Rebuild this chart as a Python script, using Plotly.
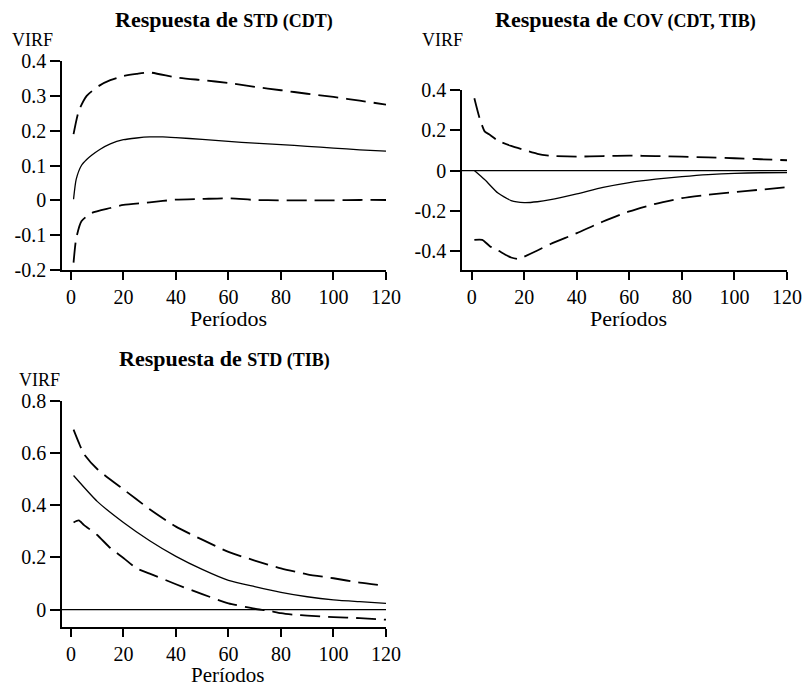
import plotly.graph_objects as go

# ---------------- data ----------------
# Panel 1: Respuesta de STD (CDT)
p1_t = [1, 2, 4, 6, 8, 11, 15, 20, 25, 30, 35, 40, 50, 60, 70, 80, 90, 100, 110, 120]
p1_mid = [0.003, 0.06, 0.10, 0.117, 0.13, 0.146, 0.162, 0.174, 0.179, 0.182, 0.182, 0.180, 0.175, 0.169, 0.164, 0.160, 0.155, 0.150, 0.145, 0.141]

p1_up_t = [1, 3, 6, 11, 15, 20, 25, 30, 40, 50, 60, 70, 80, 90, 100, 110, 120]
p1_up = [0.19, 0.257, 0.30, 0.33, 0.345, 0.357, 0.363, 0.367, 0.353, 0.345, 0.337, 0.326, 0.316, 0.306, 0.297, 0.286, 0.275]

p1_lo_t = [1, 2, 4, 8, 15, 20, 30, 40, 50, 60, 70, 80, 90, 100, 110, 120]
p1_lo = [-0.179, -0.11, -0.06, -0.036, -0.022, -0.013, -0.006, 0.002, 0.004, 0.006, 0.001, 0.0, 0.0, 0.0, 0.001, 0.001]

# Panel 2: Respuesta de COV (CDT, TIB)
p2_t = [1, 5, 10, 15, 20, 25, 30, 40, 50, 60, 70, 80, 90, 100, 110, 120]
p2_mid = [0.0, -0.046, -0.112, -0.149, -0.159, -0.155, -0.145, -0.116, -0.084, -0.06, -0.043, -0.03, -0.02, -0.014, -0.011, -0.01]

p2_up_t = [1, 3, 5, 7, 10, 15, 20, 25, 30, 40, 50, 60, 70, 80, 90, 100, 110, 120]
p2_up = [0.359, 0.26, 0.193, 0.177, 0.148, 0.122, 0.102, 0.083, 0.073, 0.069, 0.072, 0.074, 0.072, 0.069, 0.065, 0.061, 0.056, 0.051]

p2_lo_t = [1, 4, 7, 10, 15, 18, 20, 25, 30, 40, 50, 60, 70, 80, 90, 100, 110, 120]
p2_lo = [-0.344, -0.344, -0.377, -0.397, -0.432, -0.44, -0.428, -0.397, -0.365, -0.311, -0.253, -0.203, -0.165, -0.137, -0.12, -0.107, -0.095, -0.083]

# Panel 3: Respuesta de STD (TIB)
p3_t = [1, 10, 20, 30, 40, 50, 60, 70, 80, 90, 100, 110, 120]
p3_mid = [0.514, 0.415, 0.334, 0.264, 0.204, 0.154, 0.112, 0.088, 0.066, 0.049, 0.037, 0.030, 0.024]

p3_up_t = [1, 3, 5, 10, 20, 30, 40, 50, 60, 70, 80, 90, 100, 110, 120]
p3_up = [0.69, 0.64, 0.596, 0.539, 0.461, 0.385, 0.318, 0.268, 0.221, 0.188, 0.158, 0.135, 0.12, 0.103, 0.091]

p3_lo_t = [1, 3, 5, 10, 15, 20, 25, 30, 40, 50, 60, 70, 75, 80, 85, 90, 100, 110, 120]
p3_lo = [0.334, 0.342, 0.324, 0.286, 0.236, 0.198, 0.158, 0.138, 0.097, 0.059, 0.024, 0.003, -0.004, -0.014, -0.02, -0.023, -0.029, -0.033, -0.039]

x_ticks = [0, 20, 40, 60, 80, 100, 120]
p1_yticks = [0.4, 0.3, 0.2, 0.1, 0, -0.1, -0.2]
p1_ylabels = ["0.4", "0.3", "0.2", "0.1", "0", "-0.1", "-0.2"]
p2_yticks = [0.4, 0.2, 0, -0.2, -0.4]
p2_ylabels = ["0.4", "0.2", "0", "-0.2", "-0.4"]
p3_yticks = [0.8, 0.6, 0.4, 0.2, 0]
p3_ylabels = ["0.8", "0.6", "0.4", "0.2", "0"]

titles = [
    "Respuesta de <span style='font-size:18px'>STD (CDT)</span>",
    "Respuesta de <span style='font-size:18px'>COV (CDT, TIB)</span>",
    "Respuesta de <span style='font-size:18px'>STD (TIB)</span>",
]

# ---------------- figure ----------------
FONT = "Liberation Serif, Times New Roman, serif"
fig = go.Figure()

solid = dict(color="black", width=1.3)
dashed = dict(color="black", width=1.8, dash="20px,8px")

def add_panel(n, t_mid, mid, t_up, up, t_lo, lo):
    xa = "x" if n == 1 else f"x{n}"
    ya = "y" if n == 1 else f"y{n}"
    fig.add_trace(go.Scatter(x=t_up, y=up, mode="lines", line=dict(**dashed, shape="spline", smoothing=0.6), xaxis=xa, yaxis=ya, showlegend=False))
    fig.add_trace(go.Scatter(x=t_mid, y=mid, mode="lines", line=dict(**solid, shape="spline", smoothing=0.6), xaxis=xa, yaxis=ya, showlegend=False))
    fig.add_trace(go.Scatter(x=t_lo, y=lo, mode="lines", line=dict(**dashed, shape="spline", smoothing=0.6), xaxis=xa, yaxis=ya, showlegend=False))

add_panel(1, p1_t, p1_mid, p1_up_t, p1_up, p1_lo_t, p1_lo)
add_panel(2, p2_t, p2_mid, p2_up_t, p2_up, p2_lo_t, p2_lo)
add_panel(3, p3_t, p3_mid, p3_up_t, p3_up, p3_lo_t, p3_lo)

W, H = 805, 686

def xdom(l, r):
    return [l / W, r / W]

def ydom(top, bot):
    return [1 - bot / H, 1 - top / H]

axis_common = dict(
    showline=True, linecolor="black", linewidth=1.6,
    ticks="outside", tickwidth=1.6, tickcolor="black",
    showgrid=False, zeroline=False, automargin=False,
    tickfont=dict(family=FONT, size=20, color="black"),
)
xax = dict(ticklen=8, **axis_common)
yax = dict(ticklen=10, **axis_common)

fig.update_layout(
    width=W, height=H,
    margin=dict(l=0, r=0, t=0, b=0, autoexpand=False),
    paper_bgcolor="white", plot_bgcolor="white",
    font=dict(family=FONT, color="black"),
    showlegend=False,
    xaxis=dict(domain=xdom(62, 386), range=[-3.4, 120], tickvals=x_ticks, anchor="y", **xax),
    yaxis=dict(domain=ydom(61, 270), range=[-0.2, 0.4], tickvals=p1_yticks, ticktext=p1_ylabels, anchor="x", **yax),
    xaxis2=dict(domain=xdom(462, 787), range=[-3.7, 120], tickvals=x_ticks, anchor="y2", **xax),
    yaxis2=dict(domain=ydom(90, 270), range=[-0.494, 0.4], tickvals=p2_yticks, ticktext=p2_ylabels, anchor="x2", **yax),
    xaxis3=dict(domain=xdom(62, 386), range=[-3.4, 120], tickvals=x_ticks, anchor="y3", **xax),
    yaxis3=dict(domain=ydom(401, 627), range=[-0.067, 0.8], tickvals=p3_yticks, ticktext=p3_ylabels, anchor="x3", **yax),
)

# zero reference lines in panels 2 and 3
for n in (2, 3):
    fig.add_shape(type="line", xref=f"x{n} domain", yref=f"y{n}", x0=0, x1=1, y0=0, y1=0,
                  line=dict(color="black", width=1.3))

ann = []
# titles
for (txt, cx, cy) in [(titles[0], 224, 20), (titles[1], 625, 20), (titles[2], 224, 358)]:
    ann.append(dict(text=f"<b>{txt}</b>", x=cx / W, y=1 - cy / H, xref="paper", yref="paper",
                    xanchor="center", yanchor="middle", showarrow=False,
                    font=dict(family=FONT, size=22, color="black")))
# VIRF labels
for (lx, ly) in [(10, 40), (420, 40), (17, 380)]:
    ann.append(dict(text="VIRF", x=lx / W, y=1 - ly / H, xref="paper", yref="paper",
                    xanchor="left", yanchor="middle", showarrow=False,
                    font=dict(family=FONT, size=18, color="black")))
# x-axis titles
for (cx, cy) in [(228, 318), (628, 318)]:
    ann.append(dict(text="Períodos", x=cx / W, y=1 - cy / H, xref="paper", yref="paper",
                    xanchor="center", yanchor="middle", showarrow=False,
                    font=dict(family=FONT, size=22, color="black")))
ann.append(dict(text="Períodos", x=228 / W, y=0, xref="paper", yref="paper",
                xanchor="center", yanchor="bottom", yshift=-3, showarrow=False,
                font=dict(family=FONT, size=21, color="black")))
fig.update_layout(annotations=ann)

fig.write_html("out.html")
